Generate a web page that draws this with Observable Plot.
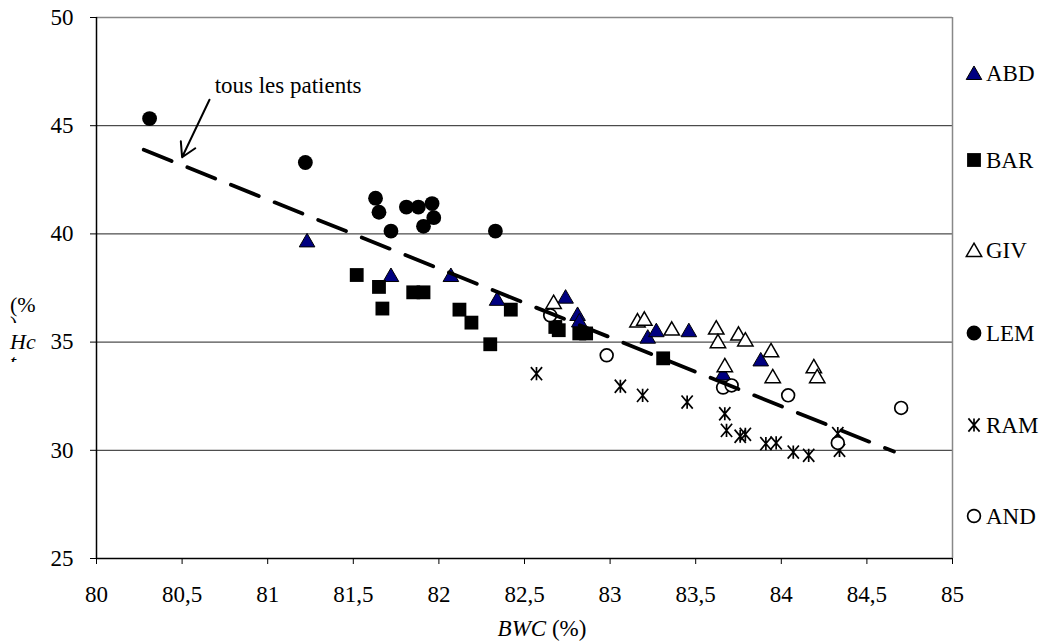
<!DOCTYPE html>
<html><head><meta charset="utf-8">
<script src="https://cdn.jsdelivr.net/npm/d3@7"></script>
<script src="https://cdn.jsdelivr.net/npm/@observablehq/plot@0.6"></script>
<style>
body{margin:0;background:#fff;}
#wrap{position:relative;width:1042px;height:644px;overflow:hidden;background:#fff;}
#wrap svg{position:absolute;left:0;top:0;}
</style></head><body><div id="wrap"></div>
<script>
const FONT = '"Liberation Serif","Times New Roman",serif';

// ---- data ----
const xTicks = [80, 80.5, 81, 81.5, 82, 82.5, 83, 83.5, 84, 84.5, 85];
const yTicks = [25, 30, 35, 40, 45, 50];
const yGrid = [30, 35, 40, 45];

const abdX = [81.23, 81.72, 82.07, 82.34, 82.74, 82.81, 82.82, 83.22, 83.27, 83.46, 83.66, 83.88];
const abdY = [39.7, 38.1, 38.1, 37.0, 37.1, 36.3, 36.0, 35.25, 35.55, 35.55, 33.55, 34.2];

const barX = [81.52, 81.65, 81.67, 81.85, 81.91, 82.12, 82.19, 82.30, 82.42, 82.68, 82.70, 82.82, 82.86, 83.31];
const barY = [38.1, 37.55, 36.55, 37.3, 37.3, 36.5, 35.9, 34.9, 36.5, 35.7, 35.55, 35.4, 35.4, 34.25];

const givX = [82.67, 83.16, 83.20, 83.36, 83.62, 83.63, 83.75, 83.79, 83.94, 83.67, 83.95, 84.19, 84.21];
const givY = [36.85, 36.0, 36.08, 35.62, 35.67, 35.04, 35.39, 35.12, 34.62, 33.93, 33.42, 33.88, 33.42];

const lemX = [80.31, 81.22, 81.63, 81.65, 81.72, 81.81, 81.88, 81.96, 81.97, 81.91, 82.33];
const lemY = [45.33, 43.3, 41.65, 41.0, 40.13, 41.24, 41.24, 41.4, 40.75, 40.35, 40.13];

const ramX = [82.57, 83.06, 83.19, 83.45, 83.67, 83.68, 83.76, 83.79, 83.91, 83.97, 84.07, 84.16, 84.34, 84.33];
const ramY = [33.54, 32.96, 32.54, 32.23, 31.69, 30.92, 30.65, 30.74, 30.31, 30.34, 29.92, 29.77, 30.0, 30.77];

const andX = [82.65, 82.98, 83.66, 83.71, 84.04, 84.70, 84.33];
const andY = [36.24, 34.39, 32.9, 33.0, 32.54, 31.96, 30.34];

const trendX = [80.276, 84.658];
const trendY = [43.89, 29.94];

const legendNames = ["ABD", "BAR", "GIV", "LEM", "RAM", "AND"];
const annotText = "tous les patients";
const annotX = 80.69, annotY = 46.83;
const arrowFrom = [80.66, 46.2], arrowTo = [80.5, 43.54];

// ---- helpers ----
const pts = (xs, ys) => xs.map((x, i) => ({x, y: ys[i]}));
const fmt = d => String(d).replace(".", ",");
const asteriskX = {draw(ctx, size) {
  const r = Math.sqrt(size / Math.PI), w = r * 0.85;
  ctx.moveTo(0, -r); ctx.lineTo(0, r);
  ctx.moveTo(-w, -r); ctx.lineTo(w, r);
  ctx.moveTo(-w, r); ctx.lineTo(w, -r);
}};

const styles = {
  ABD: {symbol: "triangle", r: 5.8, fill: "#000080", stroke: "#000", strokeWidth: 1, dy: 2},
  BAR: {symbol: "square", r: 7.8, fill: "#000", stroke: "none"},
  GIV: {symbol: "triangle", r: 5.7, fill: "#fff", stroke: "#000", strokeWidth: 1.5, dy: 2},
  LEM: {symbol: "circle", r: 7.4, fill: "#000", stroke: "none"},
  RAM: {symbol: asteriskX, r: 6.6, fill: "none", stroke: "#000", strokeWidth: 1.7},
  AND: {symbol: "circle", r: 6.4, fill: "#fff", stroke: "#000", strokeWidth: 1.7}
};
const series = {
  ABD: pts(abdX, abdY), BAR: pts(barX, barY), GIV: pts(givX, givY),
  LEM: pts(lemX, lemY), RAM: pts(ramX, ramY), AND: pts(andX, andY)
};

const chart = Plot.plot({
  width: 1042, height: 644,
  marginLeft: 96, marginRight: 90, marginTop: 17, marginBottom: 86,
  style: {fontFamily: FONT, fontSize: "23px", color: "#000", background: "transparent", overflow: "visible"},
  x: {domain: [80, 85]},
  y: {domain: [25, 50]},
  marks: [
    Plot.ruleY(yGrid, {stroke: "#222", strokeWidth: 1}),
    Plot.ruleY([50], {stroke: "#888", strokeWidth: 1.5}),
    Plot.ruleX([85], {stroke: "#888", strokeWidth: 1.5}),
    Plot.axisX({ticks: xTicks, tickFormat: fmt, tickSize: 6, tickPadding: 21, fontSize: 23, label: null, stroke: "#000"}),
    Plot.axisY({ticks: yTicks, tickSize: 6, tickPadding: 17, fontSize: 23, label: null, stroke: "#000"}),
    Plot.ruleX([80], {stroke: "#000", strokeWidth: 1.5}),
    Plot.ruleY([25], {stroke: "#000", strokeWidth: 1.5}),
    ...legendNames.map(n => Plot.dot(series[n], {x: "x", y: "y", ...styles[n]})),
    Plot.line(pts(trendX, trendY), {x: "x", y: "y", stroke: "#000", strokeWidth: 3.8, strokeDasharray: "30,17"}),
    Plot.arrow([{x1: arrowFrom[0], y1: arrowFrom[1], x2: arrowTo[0], y2: arrowTo[1]}],
      {x1: "x1", y1: "y1", x2: "x2", y2: "y2", stroke: "#000", strokeWidth: 2, headLength: 12}),
    Plot.text([{x: annotX, y: annotY, t: annotText}], {x: "x", y: "y", text: "t", textAnchor: "start", fontSize: 23, fill: "#000"})
  ]
});
const wrap = document.getElementById("wrap");
wrap.appendChild(chart);

// axis titles
const svg = d3.select(chart);
const xl = svg.append("text").attr("x", 542).attr("y", 636).attr("text-anchor", "middle")
  .attr("font-family", FONT).attr("font-size", 23).attr("fill", "#000");
xl.append("tspan").attr("font-style", "italic").text("BWC");
xl.append("tspan").text(" (%)");

const defs = svg.append("defs");
const yLab = [
  {t: "(%", italic: false, y: 312, clip: null},
  {t: ")", italic: false, y: 331, clip: 8},
  {t: "Hc", italic: true, y: 349, clip: null},
  {t: "t", italic: true, y: 369, clip: 9}
];
yLab.forEach((d, i) => {
  let node = svg;
  if (d.clip) {
    defs.append("clipPath").attr("id", "yc" + i).append("rect")
      .attr("x", 0).attr("y", d.y - 18).attr("width", 60).attr("height", d.clip + 2);
    node = svg.append("g").attr("clip-path", `url(#yc${i})`);
  }
  node.append("text").attr("x", 10).attr("y", d.y).attr("text-anchor", "start")
    .attr("font-family", FONT).attr("font-size", 22)
    .attr("font-style", d.italic ? "italic" : "normal").attr("fill", "#000").text(d.t);
});

// legend
const legendY = [73, 160, 250, 333, 425, 516];
const lg = d3.select(wrap).append("svg").attr("width", 1042).attr("height", 644)
  .style("pointer-events", "none");
legendNames.forEach((n, i) => {
  const s = styles[n];
  const type = typeof s.symbol === "string"
    ? {triangle: d3.symbolTriangle, square: d3.symbolSquare, circle: d3.symbolCircle}[s.symbol]
    : s.symbol;
  const sz = Math.PI * s.r * s.r;
  lg.append("path").attr("d", d3.symbol(type, sz)())
    .attr("transform", `translate(974,${legendY[i] + (s.symbol === "triangle" ? 2 : 0)})`)
    .attr("fill", s.fill).attr("stroke", s.stroke).attr("stroke-width", s.strokeWidth || 0);
  lg.append("text").attr("x", 986).attr("y", legendY[i]).attr("dy", "0.35em")
    .attr("font-family", FONT).attr("font-size", 23).attr("fill", "#000").text(n);
});
</script></body></html>
